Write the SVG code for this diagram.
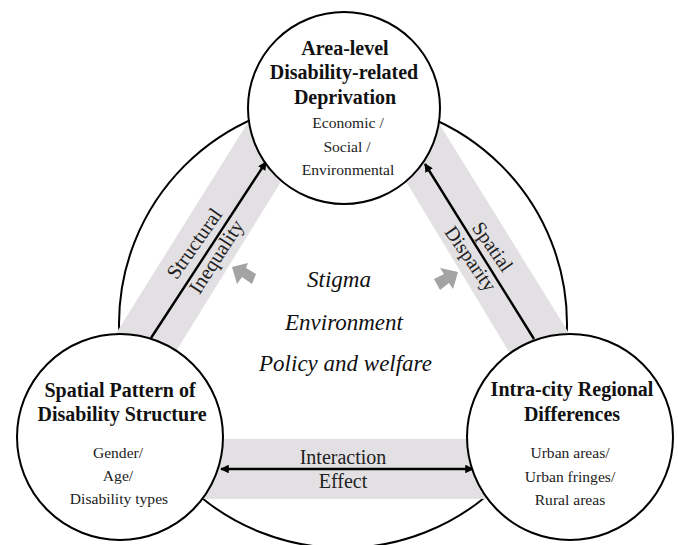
<svg xmlns="http://www.w3.org/2000/svg" width="678" height="545" viewBox="0 0 678 545">
<style>
text{font-family:"Liberation Serif","Times New Roman",serif;fill:#111;text-anchor:middle}
.t{font-weight:bold;font-size:20px}
.s{font-size:15.6px;fill:#222}
.l{font-size:20px;fill:#222}
.c{font-style:italic;font-size:23px}
.band{fill:#e2e0e2}
.node{fill:#fff;stroke:#000;stroke-width:2}
.conn{stroke:#000;stroke-width:2.4;fill:none}
.ga{fill:#a3a3a3}
</style>
<defs>
<marker id="a" viewBox="0 0 10 10" refX="9" refY="5" markerWidth="3.8" markerHeight="3.6" orient="auto-start-reverse"><path d="M0 0L10 5L0 10z" fill="#000"/></marker>
</defs>
<rect width="678" height="545" fill="#fff"/>
<circle id="ring" cx="343" cy="324" r="224" fill="#fff" stroke="#000" stroke-width="2"/>
<g id="bands">
<polygon class="band" points="260,103 300,151 170,361 110,343"/>
<polygon class="band" points="427,104 387,150 520,370 575,343"/>
<polygon class="band" points="200,439 490,439 490,499 200,499"/>
</g>
<g id="connectors">
<line class="conn" x1="151" y1="338" x2="266" y2="162" marker-end="url(#a)"/>
<line class="conn" x1="534" y1="339" x2="425" y2="164" marker-end="url(#a)"/>
<line class="conn" x1="221" y1="469" x2="473" y2="469" marker-start="url(#a)" marker-end="url(#a)"/>
</g>
<g id="arrows">
<polygon class="ga" points="232,267 248,263 246,268 256,274 252,284 242,277 237,284"/>
<polygon class="ga" points="458,272 453,289 449,283 440,290 434,279 444,274 440,268"/>
</g>
<g id="node-top">
<circle class="node" cx="344" cy="108" r="96"/>
<text class="t" x="345" y="55">Area-level</text>
<text class="t" x="344" y="79">Disability-related</text>
<text class="t" x="345" y="104">Deprivation</text>
<text class="s" x="348" y="128">Economic /</text>
<text class="s" x="347" y="152">Social /</text>
<text class="s" x="348" y="175">Environmental</text>
</g>
<g id="node-left">
<circle class="node" cx="120" cy="437" r="103"/>
<text class="t" x="120" y="397">Spatial Pattern of</text>
<text class="t" x="122" y="421">Disability Structure</text>
<text class="s" x="118" y="458">Gender/</text>
<text class="s" x="118" y="481">Age/</text>
<text class="s" x="119" y="504">Disability types</text>
</g>
<g id="node-right">
<circle class="node" cx="570" cy="437" r="103"/>
<text class="t" x="572" y="396">Intra-city Regional</text>
<text class="t" x="572" y="421">Differences</text>
<text class="s" x="570" y="458">Urban areas/</text>
<text class="s" x="570" y="482">Urban fringes/</text>
<text class="s" x="570" y="505">Rural areas</text>
</g>
<g id="labels">
<text class="l" transform="translate(195,244) rotate(-55)" y="6" style="font-size:20.5px">Structural</text>
<text class="l" transform="translate(217,257) rotate(-57)" y="6" style="font-size:20.5px">Inequality</text>
<text class="l" transform="translate(492,247) rotate(55)" y="6">Spatial</text>
<text class="l" transform="translate(470,259) rotate(55)" y="6">Disparity</text>
<text class="l" x="343" y="464">Interaction</text>
<text class="l" x="343" y="488">Effect</text>
<text class="c" x="339" y="287">Stigma</text>
<text class="c" x="344" y="330">Environment</text>
<text class="c" x="345.5" y="371">Policy and welfare</text>
</g>
</svg>
